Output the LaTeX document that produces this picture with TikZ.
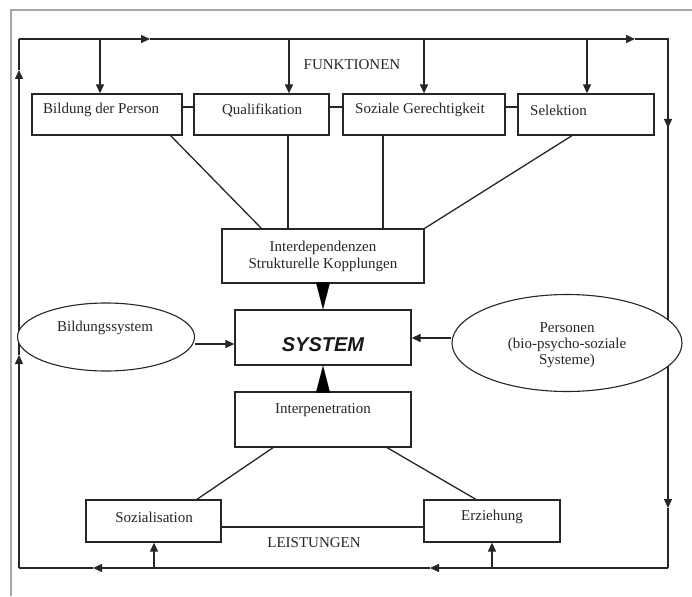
\documentclass[tikz,border=0pt]{standalone}
\usepackage{fontspec}
\setmainfont{Liberation Serif}
\newfontfamily\sysfont{Liberation Sans}
\usetikzlibrary{arrows.meta,shapes.geometric}
\begin{document}
\begin{tikzpicture}[x=1pt,y=-1pt,
  ln/.style={line width=1.3pt,black!85},
  arr/.style={ln,-{Triangle[length=9pt,width=8pt]}},
  bigarr/.style={line width=0.1pt,-{Triangle[length=27pt,width=14pt]}},
  box/.style={draw,ln,rectangle,inner sep=0pt,fill=white},
  ell/.style={draw,line width=1.1pt,black!85,ellipse,inner sep=0pt,fill=white},
  txt/.style={inner sep=0pt,font=\fontsize{15}{18}\selectfont,text=black!85}]
\useasboundingbox (0,0) rectangle (692,596);
% gray frame
\draw[line width=2pt,black!35] (10.5,596) -- (10.5,10) -- (692,10);
% loop coordinates
\coordinate (tl) at (19,39);
\coordinate (tr) at (668,39);
\coordinate (br) at (668,568);
\coordinate (bl) at (19,568);
\coordinate (t1) at (150,39);
\coordinate (t2) at (635,39);
\coordinate (r1) at (668,128);
\coordinate (r2) at (668,508);
\coordinate (b1) at (430,568);
\coordinate (b2) at (93,568);
\coordinate (l1) at (19,355);
\coordinate (l2) at (19,70);
\draw[arr] (tl) -- (t1);
\draw[arr] (t1) -- (t2);
\draw[ln] (t2) -- (tr) -- (r1);
\draw[arr] (tr) -- (r1);
\draw[arr] (r1) -- (r2);
\draw[ln] (r2) -- (br);
\draw[arr] (br) -- (b1);
\draw[arr] (b1) -- (b2);
\draw[ln] (b2) -- (bl);
\draw[arr] (bl) -- (l1);
\draw[arr] (l1) -- (l2);
\draw[ln] (l2) -- (tl);
% top boxes
\node[box,minimum width=150,minimum height=41] (bild) at (107,114.5) {};
\node[box,minimum width=135,minimum height=41] (qual) at (261.5,114.5) {};
\node[box,minimum width=162,minimum height=41] (soz) at (424,114.5) {};
\node[box,minimum width=136,minimum height=41] (sel) at (586,114.5) {};
\node[txt,anchor=west] (tbild) at (43,110) {Bildung der Person};
\node[txt] (tqual) at (262,110) {Qualifikation};
\node[txt,anchor=west] (tsoz) at (355,110) {Soziale Gerechtigkeit};
\node[txt,anchor=west] (tsel) at (530,110) {Selektion};
\node[txt] (funk) at (352,65) {FUNKTIONEN};
% down arrows from top line
\coordinate (d1) at (100,39);
\coordinate (d2) at (289,39);
\coordinate (d3) at (424,39);
\coordinate (d4) at (587,39);
\draw[arr] (d1) -- (d1 |- bild.north);
\draw[arr] (d2) -- (d2 |- qual.north);
\draw[arr] (d3) -- (d3 |- soz.north);
\draw[arr] (d4) -- (d4 |- sel.north);
% connectors between boxes
\draw[ln] (bild.east |- 0,107) -- (qual.west |- 0,107);
\draw[ln] (qual.east |- 0,107) -- (soz.west |- 0,107);
\draw[ln] (soz.east |- 0,107) -- (sel.west |- 0,107);
% central boxes
\node[box,minimum width=202,minimum height=54] (inter) at (323,256) {};
\node[txt,align=center] (tinter) at (323,256) {Interdependenzen\\[-1pt]Strukturelle Kopplungen};
\node[box,minimum width=176,minimum height=55] (sys) at (323,337.5) {};
\node[inner sep=0pt,text=black!90] (tsys) at (323,345) {\sysfont\fontsize{20}{24}\selectfont\bfseries\itshape SYSTEM};
\node[box,minimum width=176,minimum height=55] (ipen) at (323,419.5) {};
\node[txt] (tipen) at (323,410) {Interpenetration};
% lines from top boxes to inter
\draw[ln] (170,135) -- (262,229);
\draw[ln] (288,135) -- (288,229);
\draw[ln] (383,135) -- (383,229);
\draw[ln] (573,135) -- (inter.north east);
% big triangle arrows
\draw[bigarr] (inter.south) -- (sys.north);
\draw[bigarr] (ipen.north) -- (sys.south);
% ellipses
\node[ell,minimum width=177,minimum height=68] (bsys) at (106,337) {};
\node[txt] (tbsys) at (105,328) {Bildungssystem};
\node[ell,minimum width=230,minimum height=97] (pers) at (567,343) {};
\node[txt,align=center] (tpers) at (567,345) {Personen\\[-2pt](bio-psycho-soziale\\[-2pt]Systeme)};
\draw[arr] ([yshift=-7pt]bsys.east) -- ([yshift=-7pt]bsys.east -| sys.west);
\draw[arr] ([yshift=5pt]pers.west) -- ([yshift=5pt]pers.west -| sys.east);
% bottom boxes
\node[box,minimum width=135,minimum height=42] (sozi) at (153.5,521) {};
\node[txt] (tsozi) at (154,517) {Sozialisation};
\node[box,minimum width=136,minimum height=42] (erz) at (492,521) {};
\node[txt] (terz) at (492,517) {Erziehung};
\node[txt] (leist) at (314,543) {LEISTUNGEN};
\draw[ln] (274,447) -- (196,500);
\draw[ln] (386,447) -- (477,500);
\draw[ln] (sozi.east |- 0,527) -- (erz.west |- 0,527);
% up arrows from bottom line
\coordinate (u1) at (154,568);
\coordinate (u2) at (492,568);
\draw[arr] (u1) -- (u1 |- sozi.south);
\draw[arr] (u2) -- (u2 |- erz.south);
\end{tikzpicture}
\end{document}
